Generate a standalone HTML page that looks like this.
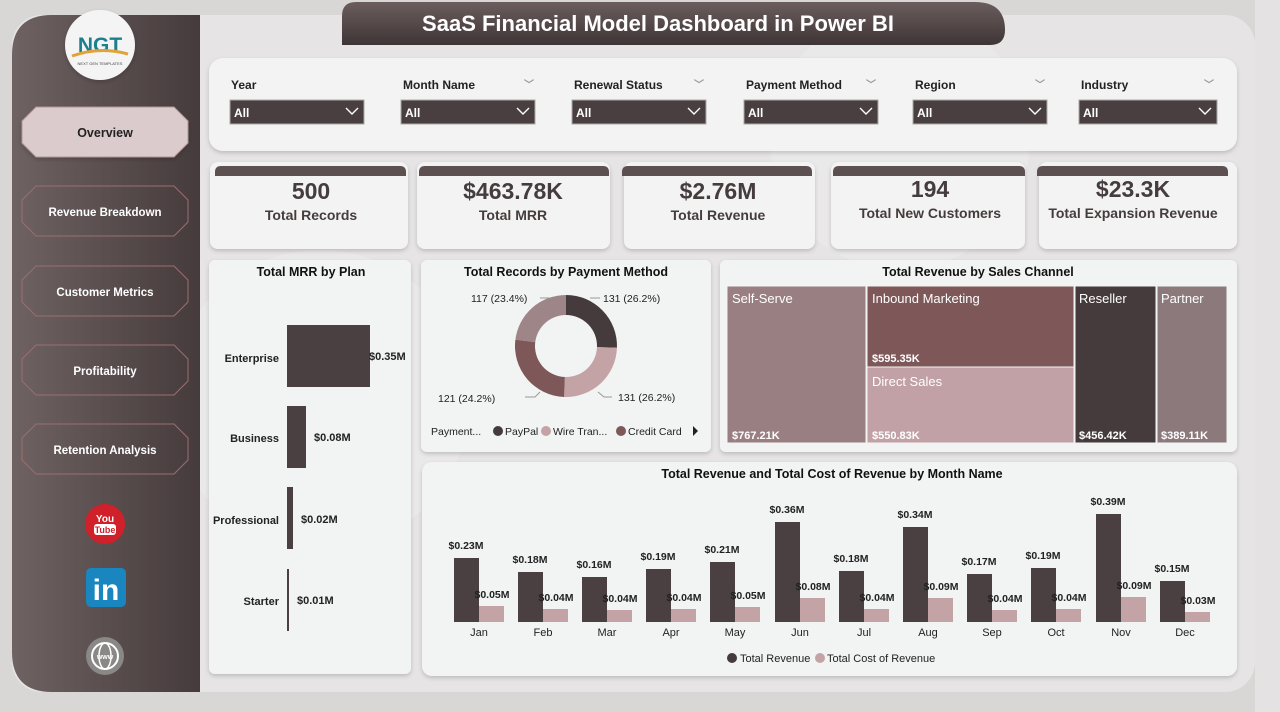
<!DOCTYPE html>
<html><head><meta charset="utf-8"><style>
html,body{margin:0;padding:0;width:1280px;height:712px;overflow:hidden;background:#d8d5d5}
svg{display:block;font-family:"Liberation Sans",sans-serif}
</style></head><body>
<svg width="1280" height="712" viewBox="0 0 1280 712" xmlns="http://www.w3.org/2000/svg">
<defs>
<linearGradient id="sb" x1="0" y1="0" x2="1" y2="0"><stop offset="0" stop-color="#6e6262"/><stop offset="1" stop-color="#463b3c"/></linearGradient>
<linearGradient id="tt" x1="0" y1="0" x2="0" y2="1"><stop offset="0" stop-color="#6b5d5e"/><stop offset="1" stop-color="#3f3536"/></linearGradient>
<filter id="sh" x="-5%" y="-5%" width="110%" height="115%"><feDropShadow dx="0" dy="2" stdDeviation="2" flood-color="#000" flood-opacity="0.18"/></filter>
</defs>
<rect width="1280" height="712" fill="#d9d6d6"/>
<rect x="12" y="15" width="1243" height="677" rx="30" fill="#e6e4e4"/>
<rect x="1255" y="0" width="25" height="712" fill="#e4e2e2"/>
<circle cx="320" cy="400" r="150" fill="#ececec" opacity="0.6"/>
<circle cx="900" cy="140" r="130" fill="#ececec" opacity="0.6"/>
<!-- sidebar -->
<path d="M52 15 H200 V692 H52 Q12 692 12 652 V55 Q12 15 52 15Z" fill="url(#sb)"/>
<circle cx="100" cy="45" r="35" fill="#f4f4f4" filter="url(#sh)"/>
<text x="100" y="52" text-anchor="middle" font-size="21" font-weight="bold" fill="#1d7f8c">NGT</text>
<path d="M72 56 Q100 46 128 54" stroke="#e0a33a" stroke-width="3" fill="none"/>
<text x="100" y="65" text-anchor="middle" font-size="4" fill="#444">NEXT GEN TEMPLATES</text>
<g font-size="12.5" font-weight="bold" text-anchor="middle">
<path d="M36 107 H174 L188 121 V143 L174 157 H36 L22 143 V121Z" fill="#dccbcd" stroke="#b09798" filter="url(#sh)"/>
<text x="105" y="137" fill="#222">Overview</text>
<path d="M36 186 H174 L188 200 V222 L174 236 H36 L22 222 V200Z" fill="none" stroke="#9c6e6f"/>
<text x="105" y="216" fill="#fff" font-size="11.5">Revenue Breakdown</text>
<path d="M36 266 H174 L188 280 V302 L174 316 H36 L22 302 V280Z" fill="none" stroke="#9c6e6f"/>
<text x="105" y="296" fill="#fff" font-size="11.5">Customer Metrics</text>
<path d="M36 345 H174 L188 359 V381 L174 395 H36 L22 381 V359Z" fill="none" stroke="#9c6e6f"/>
<text x="105" y="375" fill="#fff" font-size="11.5">Profitability</text>
<path d="M36 424 H174 L188 438 V460 L174 474 H36 L22 460 V438Z" fill="none" stroke="#9c6e6f"/>
<text x="105" y="454" fill="#fff" font-size="11.5">Retention Analysis</text>
</g>
<circle cx="105" cy="524" r="20" fill="#d0202a"/>
<text x="105" y="522" text-anchor="middle" font-size="10" font-weight="bold" fill="#fff">You</text>
<rect x="94" y="524" width="22" height="11" rx="3" fill="#fff"/>
<text x="105" y="533" text-anchor="middle" font-size="9" font-weight="bold" fill="#d0202a">Tube</text>
<rect x="86" y="568" width="40" height="39" rx="5" fill="#1a86c0"/>
<text x="106" y="600" text-anchor="middle" font-size="30" font-weight="bold" fill="#fff">in</text>
<circle cx="105" cy="656" r="19" fill="#8a8787"/>
<circle cx="105" cy="656" r="13" fill="none" stroke="#fff" stroke-width="2"/>
<ellipse cx="105" cy="656" rx="6" ry="13" fill="none" stroke="#fff" stroke-width="1.5"/>
<text x="105" y="659" text-anchor="middle" font-size="7" font-weight="bold" fill="#fff">www</text>
<!-- title -->
<path d="M342 45 V16 Q342 2 356 2 H975 Q1005 2 1005 30 Q1005 45 990 45Z" fill="url(#tt)"/>
<text x="658" y="31" text-anchor="middle" font-size="22" font-weight="bold" fill="#fff">SaaS Financial Model Dashboard in Power BI</text>
<!-- filters -->
<rect x="209" y="58" width="1028" height="93" rx="14" fill="#f3f3f3" filter="url(#sh)"/>
<g font-size="12" font-weight="bold">
<g id="f"></g>
<text x="231" y="89" fill="#222">Year</text>
<text x="403" y="89" fill="#222">Month Name</text><text x="524" y="88" fill="#999" font-size="10">﹀</text>
<text x="574" y="89" fill="#222">Renewal Status</text><text x="694" y="88" fill="#999" font-size="10">﹀</text>
<text x="746" y="89" fill="#222">Payment Method</text><text x="866" y="88" fill="#999" font-size="10">﹀</text>
<text x="915" y="89" fill="#222">Region</text><text x="1035" y="88" fill="#999" font-size="10">﹀</text>
<text x="1081" y="89" fill="#222">Industry</text><text x="1204" y="88" fill="#999" font-size="10">﹀</text>
</g>
<g font-size="12" font-weight="bold" fill="#fff">
<rect x="230" y="100" width="134" height="24" fill="#4a3f40" stroke="#aaa"/><text x="234" y="117">All</text>
<rect x="401" y="100" width="134" height="24" fill="#4a3f40" stroke="#aaa"/><text x="405" y="117">All</text>
<rect x="572" y="100" width="134" height="24" fill="#4a3f40" stroke="#aaa"/><text x="576" y="117">All</text>
<rect x="744" y="100" width="134" height="24" fill="#4a3f40" stroke="#aaa"/><text x="748" y="117">All</text>
<rect x="913" y="100" width="134" height="24" fill="#4a3f40" stroke="#aaa"/><text x="917" y="117">All</text>
<rect x="1079" y="100" width="138" height="24" fill="#4a3f40" stroke="#aaa"/><text x="1083" y="117">All</text>
</g>
<g stroke="#fff" stroke-width="1.4" fill="none">
<path d="M346 108 l6 6 l6 -6"/><path d="M517 108 l6 6 l6 -6"/><path d="M688 108 l6 6 l6 -6"/><path d="M860 108 l6 6 l6 -6"/><path d="M1029 108 l6 6 l6 -6"/><path d="M1199 108 l6 6 l6 -6"/>
</g>
<!-- KPI cards -->
<g filter="url(#sh)" fill="#f3f3f3">
<rect x="210" y="162" width="198" height="87" rx="8"/>
<rect x="417" y="162" width="193" height="87" rx="8"/>
<rect x="624" y="162" width="191" height="87" rx="8"/>
<rect x="831" y="162" width="194" height="87" rx="8"/>
<rect x="1039" y="162" width="198" height="87" rx="8"/>
</g>
<g fill="#5c5051">
<path d="M215 176 V172 Q215 166 221 166 H400 Q406 166 406 172 V176Z"/>
<path d="M419 176 V172 Q419 166 425 166 H603 Q609 166 609 172 V176Z"/>
<path d="M622 176 V172 Q622 166 628 166 H806 Q812 166 812 172 V176Z"/>
<path d="M833 176 V172 Q833 166 839 166 H1019 Q1025 166 1025 172 V176Z"/>
<path d="M1037 176 V172 Q1037 166 1043 166 H1222 Q1228 166 1228 172 V176Z"/>
</g>
<g text-anchor="middle" font-weight="bold" fill="#453c3d">
<text x="311" y="199" font-size="23">500</text><text x="311" y="220" font-size="14">Total Records</text>
<text x="513" y="199" font-size="23">$463.78K</text><text x="513" y="220" font-size="14">Total MRR</text>
<text x="718" y="199" font-size="23">$2.76M</text><text x="718" y="220" font-size="14">Total Revenue</text>
<text x="930" y="197" font-size="23">194</text><text x="930" y="218" font-size="14">Total New Customers</text>
<text x="1133" y="197" font-size="23">$23.3K</text><text x="1133" y="218" font-size="14">Total Expansion Revenue</text>
</g>
<!-- chart panels -->
<g filter="url(#sh)" fill="#f2f3f3">
<rect x="209" y="260" width="202" height="414" rx="6"/>
<rect x="421" y="260" width="290" height="192" rx="6"/>
<rect x="720" y="260" width="517" height="192" rx="6"/>
<rect x="422" y="462" width="815" height="214" rx="10"/>
</g>
<g font-weight="bold" font-size="12.5" text-anchor="middle" fill="#111">
<text x="311" y="276">Total MRR by Plan</text>
<text x="566" y="276">Total Records by Payment Method</text>
<text x="978" y="276">Total Revenue by Sales Channel</text>
<text x="832" y="478">Total Revenue and Total Cost of Revenue by Month Name</text>
</g>
<!-- MRR bars -->
<g fill="#4a4041">
<rect x="287" y="325" width="83" height="62"/>
<rect x="287" y="406" width="19" height="62"/>
<rect x="287" y="487" width="6" height="62"/>
<rect x="287" y="569" width="2" height="62"/>
</g>
<g font-size="11" font-weight="bold" fill="#222">
<text x="279" y="362" text-anchor="end">Enterprise</text><text x="369" y="360">$0.35M</text>
<text x="279" y="442" text-anchor="end">Business</text><text x="314" y="441">$0.08M</text>
<text x="279" y="524" text-anchor="end">Professional</text><text x="301" y="523">$0.02M</text>
<text x="279" y="605" text-anchor="end">Starter</text><text x="297" y="604">$0.01M</text>
</g>
<!-- donut -->
<g transform="translate(566,346)">
<path d="M0 -51 A51 51 0 0 1 50.97 1.8 L30.98 1.1 A31 31 0 0 0 0 -31Z" fill="#453b3c"/>
<path d="M50.97 1.8 A51 51 0 0 1 -1.9 50.96 L-1.15 30.98 A31 31 0 0 0 30.98 1.1Z" fill="#c3a3a6"/>
<path d="M-1.9 50.96 A51 51 0 0 1 -50.6 -6.4 L-30.76 -3.9 A31 31 0 0 0 -1.15 30.98Z" fill="#7e5758"/>
<path d="M-50.6 -6.4 A51 51 0 0 1 0 -51 L0 -31 A31 31 0 0 0 -30.76 -3.9Z" fill="#9e8588"/>
</g>
<g stroke="#999" fill="none"><path d="M540 298 H550"/><path d="M590 298 H600"/><path d="M598 392 L604 397 H612"/><path d="M525 397 H535 L540 392"/></g>
<g font-size="10.5" fill="#222">
<text x="471" y="302">117 (23.4%)</text><text x="603" y="302">131 (26.2%)</text>
<text x="438" y="402">121 (24.2%)</text><text x="618" y="401">131 (26.2%)</text>
<text x="431" y="435">Payment...</text>
<circle cx="498" cy="431" r="5" fill="#453b3c"/><text x="505" y="435">PayPal</text>
<circle cx="546" cy="431" r="5" fill="#c3a3a6"/><text x="553" y="435">Wire Tran...</text>
<circle cx="621" cy="431" r="5" fill="#7e5758"/><text x="628" y="435">Credit Card</text>
<path d="M693 426 L698 431 L693 436Z" fill="#222"/>
</g>
<!-- treemap -->
<g stroke="#f2f3f3" stroke-width="1">
<rect x="727" y="286" width="139" height="157" fill="#9a7f82"/>
<rect x="867" y="286" width="207" height="81" fill="#7e5758"/>
<rect x="867" y="367" width="207" height="76" fill="#c1a1a5"/>
<rect x="1075" y="286" width="81" height="157" fill="#453b3c"/>
<rect x="1157" y="286" width="70" height="157" fill="#8c797b"/>
</g>
<g fill="#fff" font-size="13">
<text x="732" y="303">Self-Serve</text><text x="872" y="303">Inbound Marketing</text><text x="872" y="386">Direct Sales</text>
<text x="1079" y="303">Reseller</text><text x="1161" y="303">Partner</text>
</g>
<g fill="#fff" font-size="11" font-weight="bold">
<text x="732" y="439">$767.21K</text><text x="872" y="362">$595.35K</text><text x="872" y="439">$550.83K</text>
<text x="1079" y="439">$456.42K</text><text x="1161" y="439">$389.11K</text>
</g>
<!-- bar chart -->
<g id="bars" font-size="10.5" font-weight="bold" fill="#222" text-anchor="middle">
<rect x="454" y="558" width="25" height="64" fill="#4a4041"/><rect x="479" y="606" width="25" height="16" fill="#c3a3a6"/><text x="466" y="549">$0.23M</text><text x="492" y="598">$0.05M</text><text x="479" y="636" font-weight="normal" font-size="11">Jan</text>
<rect x="518" y="572" width="25" height="50" fill="#4a4041"/><rect x="543" y="609" width="25" height="13" fill="#c3a3a6"/><text x="530" y="563">$0.18M</text><text x="556" y="601">$0.04M</text><text x="543" y="636" font-weight="normal" font-size="11">Feb</text>
<rect x="582" y="577" width="25" height="45" fill="#4a4041"/><rect x="607" y="610" width="25" height="12" fill="#c3a3a6"/><text x="594" y="568">$0.16M</text><text x="620" y="602">$0.04M</text><text x="607" y="636" font-weight="normal" font-size="11">Mar</text>
<rect x="646" y="569" width="25" height="53" fill="#4a4041"/><rect x="671" y="609" width="25" height="13" fill="#c3a3a6"/><text x="658" y="560">$0.19M</text><text x="684" y="601">$0.04M</text><text x="671" y="636" font-weight="normal" font-size="11">Apr</text>
<rect x="710" y="562" width="25" height="60" fill="#4a4041"/><rect x="735" y="607" width="25" height="15" fill="#c3a3a6"/><text x="722" y="553">$0.21M</text><text x="748" y="599">$0.05M</text><text x="735" y="636" font-weight="normal" font-size="11">May</text>
<rect x="775" y="522" width="25" height="100" fill="#4a4041"/><rect x="800" y="598" width="25" height="24" fill="#c3a3a6"/><text x="787" y="513">$0.36M</text><text x="813" y="590">$0.08M</text><text x="800" y="636" font-weight="normal" font-size="11">Jun</text>
<rect x="839" y="571" width="25" height="51" fill="#4a4041"/><rect x="864" y="609" width="25" height="13" fill="#c3a3a6"/><text x="851" y="562">$0.18M</text><text x="877" y="601">$0.04M</text><text x="864" y="636" font-weight="normal" font-size="11">Jul</text>
<rect x="903" y="527" width="25" height="95" fill="#4a4041"/><rect x="928" y="598" width="25" height="24" fill="#c3a3a6"/><text x="915" y="518">$0.34M</text><text x="941" y="590">$0.09M</text><text x="928" y="636" font-weight="normal" font-size="11">Aug</text>
<rect x="967" y="574" width="25" height="48" fill="#4a4041"/><rect x="992" y="610" width="25" height="12" fill="#c3a3a6"/><text x="979" y="565">$0.17M</text><text x="1005" y="602">$0.04M</text><text x="992" y="636" font-weight="normal" font-size="11">Sep</text>
<rect x="1031" y="568" width="25" height="54" fill="#4a4041"/><rect x="1056" y="609" width="25" height="13" fill="#c3a3a6"/><text x="1043" y="559">$0.19M</text><text x="1069" y="601">$0.04M</text><text x="1056" y="636" font-weight="normal" font-size="11">Oct</text>
<rect x="1096" y="514" width="25" height="108" fill="#4a4041"/><rect x="1121" y="597" width="25" height="25" fill="#c3a3a6"/><text x="1108" y="505">$0.39M</text><text x="1134" y="589">$0.09M</text><text x="1121" y="636" font-weight="normal" font-size="11">Nov</text>
<rect x="1160" y="581" width="25" height="41" fill="#4a4041"/><rect x="1185" y="612" width="25" height="10" fill="#c3a3a6"/><text x="1172" y="572">$0.15M</text><text x="1198" y="604">$0.03M</text><text x="1185" y="636" font-weight="normal" font-size="11">Dec</text>
</g>
<g font-size="11" fill="#222">
<circle cx="732" cy="658" r="5" fill="#453b3c"/><text x="740" y="662">Total Revenue</text>
<circle cx="820" cy="658" r="5" fill="#c3a3a6"/><text x="827" y="662">Total Cost of Revenue</text>
</g>
</svg>
</body></html>
